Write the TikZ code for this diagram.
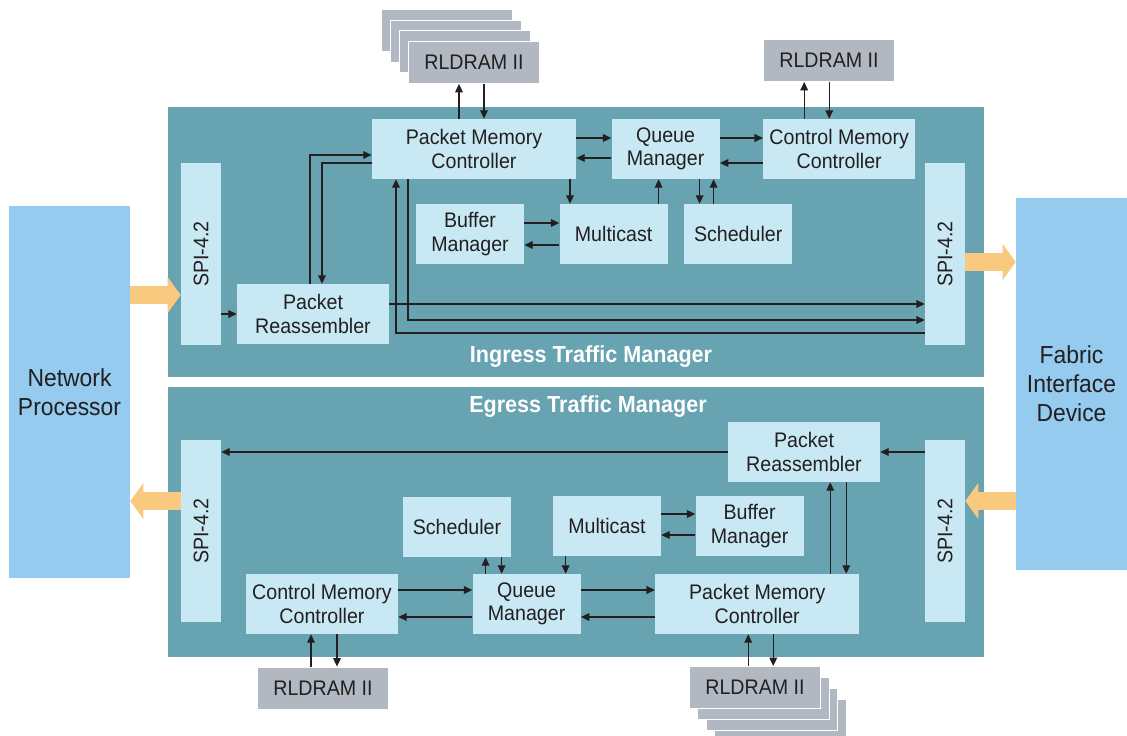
\documentclass[tikz,border=0pt]{standalone}
\usepackage{graphicx}
\usepackage{fontspec}
\setmainfont[FakeStretch=0.93]{Liberation Sans}
\usetikzlibrary{arrows.meta,positioning}
\definecolor{tmteal}{RGB}{103,163,176}
\definecolor{tmblock}{RGB}{200,233,244}
\definecolor{tmgray}{RGB}{178,184,193}
\definecolor{tmblue}{RGB}{148,203,238}
\definecolor{tmorange}{RGB}{248,201,126}
\definecolor{tmtext}{RGB}{35,31,32}

\begin{document}
\begin{tikzpicture}[x=0.025cm,y=-0.025cm,
        panel/.style={fill=tmteal,minimum width=20.4cm,minimum height=6.75cm,inner sep=0pt},
        block/.style={fill=tmblock,text=tmtext,align=center,minimum height=1.5cm,inner sep=1pt,font=\fontsize{15}{16.5}\selectfont},
        spi/.style={fill=tmblock,text=tmtext,minimum width=1cm,minimum height=4.55cm,inner sep=0pt,font=\fontsize{15}{16.5}\selectfont},
        dram/.style={fill=tmgray,draw=white,line width=0.6pt,text=tmtext,minimum width=3.28cm,minimum height=1.05cm,font=\fontsize{15}{16.5}\selectfont},
        device/.style={fill=tmblue,text=tmtext,align=center,minimum height=9.3cm,inner sep=0pt,font=\fontsize{17.5}{20.5}\selectfont},
        title/.style={text=white,font=\bfseries\fontsize{16.5}{18}\selectfont},
        link/.style={draw=tmtext,line width=0.8pt,-{Triangle[length=6pt,width=5.5pt]}},
        bigflow/.style={draw=tmorange,line width=0.45cm,-{Triangle[length=0.325cm,width=0.9cm,line width=0pt]}}
      ]
        \useasboundingbox (0,0) rectangle (1127,736);

        \node[panel] (iPanel) at (576,242) {};
        \node[panel] (ePanel) at (576,522) {};
        \node[device,minimum width=3.025cm] (np) at (69.5,392) {Network\\Processor};
        \node[device,minimum width=2.775cm] (fid) at (1071.5,384) {Fabric\\Interface\\Device};

        \node[title] at (591,357) {Ingress Traffic Manager};
        \node[title] at (588,407) {Egress Traffic Manager};

        \node[spi] (spiIL) at (201,254) {\rotatebox{90}{SPI-4.2}};
        \node[spi] (spiIR) at (945,254) {\rotatebox{90}{SPI-4.2}};
        \node[spi] (spiEL) at (201,531) {\rotatebox{90}{SPI-4.2}};
        \node[spi] (spiER) at (945,531) {\rotatebox{90}{SPI-4.2}};

        \node[block,minimum width=5.1cm] (iPMC) at (474,149) {Packet Memory\\Controller};
        \node[block,minimum width=2.7cm,right=0.875cm of iPMC] (iQM) {Queue\\Manager};
        \node[block,minimum width=3.8cm,right=1.075cm of iQM] (iCMC) {Control Memory\\Controller};
        \node[block,minimum width=2.7cm] (iBM) at (470,234) {Buffer\\Manager};
        \node[block,minimum width=2.7cm,right=0.875cm of iBM] (iMC) {Multicast};
        \node[block,minimum width=2.7cm,right=0.4cm of iMC] (iSch) {Scheduler};
        \node[block,minimum width=3.8cm] (iPR) at (313,314) {Packet\\Reassembler};

        \coordinate (iDramPos) at (474,62.5);
        \foreach \k in {3,2,1}{
          \node[dram] at ([xshift={-0.225cm*\k},yshift={0.265cm*\k}]iDramPos) {};
        }
        \node[dram] (iDram) at (iDramPos) {RLDRAM II};
        \node[dram] (iDramC) at (829,60.5) {RLDRAM II};

        \node[block,minimum width=3.8cm] (ePR) at (804,452) {Packet\\Reassembler};
        \node[block,minimum width=3.8cm] (eCMC) at (322,604) {Control Memory\\Controller};
        \node[block,minimum width=2.7cm,right=1.85cm of eCMC] (eQM) {Queue\\Manager};
        \node[block,minimum width=5.1cm,right=1.85cm of eQM] (ePMC) {Packet Memory\\Controller};
        \node[block,minimum width=2.7cm] (eSch) at (457,527) {Scheduler};
        \node[block,minimum width=2.7cm] (eMC) at (607,526) {Multicast};
        \node[block,minimum width=2.7cm,right=0.85cm of eMC] (eBM) {Buffer\\Manager};

        \node[dram] (eDramL) at (323,688) {RLDRAM II};
        \coordinate (eDramPos) at (755,687.5);
        \foreach \k in {3,2,1}{
          \node[dram] at ([xshift={0.2125cm*\k},yshift={-0.275cm*\k}]eDramPos) {};
        }
        \node[dram] (eDramR) at (eDramPos) {RLDRAM II};

        \draw[bigflow] ([yshift=-1.025cm]spiIL.west -| np.east) -- ([yshift=-1.025cm]spiIL.west);
        \draw[bigflow] ([yshift=-0.2cm]spiIR.east) -- ([yshift=-0.2cm]spiIR.east -| fid.west);
        \draw[bigflow] ([yshift=0.75cm]spiEL.west) -- ([yshift=0.75cm]spiEL.west -| np.east);
        \draw[bigflow] ([yshift=0.75cm]spiER.east -| fid.west) -- ([yshift=0.75cm]spiER.east);

        \draw[link] ([xshift=-0.375cm]iPMC.north) -- ([xshift=-0.375cm]iPMC.north |- iDram.south);
        \draw[link] ([xshift=0.25cm]iPMC.north |- iDram.south) -- ([xshift=0.25cm]iPMC.north);
        \draw[link] ([yshift=0.275cm]iPMC.east) -- ([yshift=0.275cm]iPMC.east -| iQM.west);
        \draw[link] ([yshift=-0.225cm]iQM.west) -- ([yshift=-0.225cm]iQM.west -| iPMC.east);
        \draw[link] ([yshift=0.275cm]iQM.east) -- ([yshift=0.275cm]iQM.east -| iCMC.west);
        \draw[link] ([yshift=-0.35cm]iCMC.west) -- ([yshift=-0.35cm]iCMC.west -| iQM.east);
        \draw[link] ([xshift=-0.875cm]iCMC.north) -- ([xshift=-0.875cm]iCMC.north |- iDramC.south);
        \draw[link] ([xshift=-0.25cm]iCMC.north |- iDramC.south) -- ([xshift=-0.25cm]iCMC.north);
        \draw[link] ([xshift=2.4cm]iPMC.south) -- ([xshift=2.4cm]iPMC.south |- iMC.north);
        \draw[link] ([xshift=1.125cm]iMC.north) -- ([xshift=1.125cm]iMC.north |- iQM.south);
        \draw[link] ([xshift=0.85cm]iQM.south) -- ([xshift=0.85cm]iQM.south |- iSch.north);
        \draw[link] ([xshift=1.2cm]iQM.south |- iSch.north) -- ([xshift=1.2cm]iQM.south);
        \draw[link] ([yshift=0.275cm]iBM.east) -- ([yshift=0.275cm]iBM.east -| iMC.west);
        \draw[link] ([yshift=-0.275cm]iMC.west) -- ([yshift=-0.275cm]iMC.west -| iBM.east);
        \draw[link] (spiIL.east |- iPR.west) -- (iPR.west);
        \draw[link] ([xshift=-0.075cm]iPR.north) |- ([yshift=-0.15cm]iPMC.west);
        \draw[link] ([yshift=-0.35cm]iPMC.west) -| ([xshift=0.225cm]iPR.north);
        \draw[link] ([yshift=0.25cm]iPR.east) -- ([yshift=0.25cm]iPR.east -| spiIR.west);
        \draw[link] ([xshift=-1.65cm]iPMC.south) |- ([yshift=-1.65cm]spiIR.west);
        \draw[link] ([yshift=-1.975cm]spiIR.west) -| ([xshift=-1.95cm]iPMC.south);

        \draw[link] (ePR.west) -- (ePR.west -| spiEL.east);
        \draw[link] (spiER.west |- ePR.east) -- (ePR.east);
        \draw[link] ([xshift=1.825cm]ePMC.north) -- ([xshift=1.825cm]ePMC.north |- ePR.south);
        \draw[link] ([xshift=2.225cm]ePMC.north |- ePR.south) -- ([xshift=2.225cm]ePMC.north);
        \draw[link] ([yshift=0.3cm]eMC.east) -- ([yshift=0.3cm]eMC.east -| eBM.west);
        \draw[link] ([yshift=-0.225cm]eBM.west) -- ([yshift=-0.225cm]eBM.west -| eMC.east);
        \draw[link] ([xshift=-1.025cm]eQM.north) -- ([xshift=-1.025cm]eQM.north |- eSch.south);
        \draw[link] ([xshift=-0.625cm]eQM.north |- eSch.south) -- ([xshift=-0.625cm]eQM.north);
        \draw[link] ([xshift=0.975cm]eQM.north |- eMC.south) -- ([xshift=0.975cm]eQM.north);
        \draw[link] ([yshift=0.35cm]eCMC.east) -- ([yshift=0.35cm]eCMC.east -| eQM.west);
        \draw[link] ([yshift=-0.325cm]eQM.west) -- ([yshift=-0.325cm]eQM.west -| eCMC.east);
        \draw[link] ([yshift=0.35cm]eQM.east) -- ([yshift=0.35cm]eQM.east -| ePMC.west);
        \draw[link] ([yshift=-0.325cm]ePMC.west) -- ([yshift=-0.325cm]ePMC.west -| eQM.east);
        \draw[link] ([xshift=-0.275cm]eCMC.south |- eDramL.north) -- ([xshift=-0.275cm]eCMC.south);
        \draw[link] ([xshift=0.375cm]eCMC.south) -- ([xshift=0.375cm]eCMC.south |- eDramL.north);
        \draw[link] ([xshift=-0.225cm]ePMC.south |- eDramR.north) -- ([xshift=-0.225cm]ePMC.south);
        \draw[link] ([xshift=0.4cm]ePMC.south) -- ([xshift=0.4cm]ePMC.south |- eDramR.north);
      \end{tikzpicture}
\end{document}
